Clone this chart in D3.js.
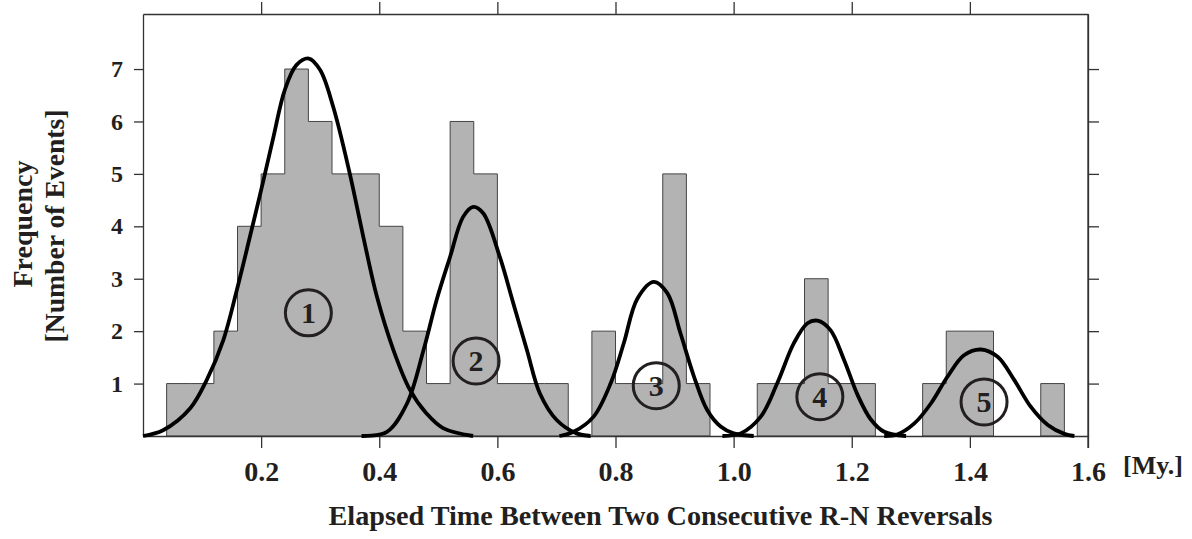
<!DOCTYPE html>
<html>
<head>
<meta charset="utf-8">
<script src="https://cdn.jsdelivr.net/npm/d3@7"></script>
<style>
  body { margin: 0; background: #fff; }
  svg text { font-family: "Liberation Serif", "Times New Roman", serif; font-weight: bold; fill: #231f20; }
</style>
</head>
<body>
<svg id="chart" width="1192" height="539"></svg>
<script>
// histogram bins (start of each 0.04 My. bin) and number of events
const binStart = [0.04,0.08,0.12,0.16,0.20,0.24,0.28,0.32,0.36,0.40,0.44,0.48,0.52,0.56,0.60,0.64,0.68,0.72,0.76,0.80,
                  0.84,0.88,0.92,0.96,1.00,1.04,1.08,1.12,1.16,1.20,1.24,1.28,1.32,1.36,1.40,1.44,1.48,1.52];
const binCount = [1,1,2,4,5,7,6,5,5,4,2,1,6,5,1,1,1,0,2,1,
                  1,5,1,0,0,1,1,3,1,1,0,0,1,2,2,0,0,1];
const binWidth = 0.04;

// fitted curves as [time, frequency]
const curve1 = [[0.0,0],[0.034,0.11],[0.080,0.53],[0.108,1.07],[0.136,1.83],[0.159,2.79],[0.181,3.80],[0.204,4.88],
                [0.221,5.71],[0.240,6.60],[0.260,7.08],[0.281,7.20],[0.300,6.98],[0.322,6.28],[0.350,5.01],[0.373,3.80],
                [0.396,2.66],[0.424,1.64],[0.452,0.88],[0.480,0.43],[0.508,0.15],[0.559,0.0]];
const curve2 = [[0.370,0],[0.413,0.08],[0.447,0.62],[0.475,1.64],[0.497,2.59],[0.520,3.42],[0.542,4.18],[0.559,4.37],
                [0.576,4.25],[0.604,3.42],[0.627,2.53],[0.650,1.64],[0.672,0.81],[0.700,0.31],[0.734,0.05],[0.758,0]];
const curve3 = [[0.705,0],[0.729,0.08],[0.763,0.37],[0.792,1.01],[0.814,1.77],[0.837,2.62],[0.865,2.94],[0.888,2.72],
                [0.910,1.96],[0.933,1.13],[0.955,0.50],[0.978,0.18],[1.000,0.05],[1.034,0]];
const curve4 = [[0.981,0],[1.012,0.05],[1.046,0.37],[1.074,1.01],[1.102,1.77],[1.125,2.15],[1.142,2.20],[1.164,2.02],
                [1.187,1.45],[1.210,0.78],[1.232,0.32],[1.255,0.08],[1.292,0]];
const curve5 = [[1.255,0],[1.277,0.03],[1.306,0.24],[1.334,0.62],[1.362,1.13],[1.390,1.54],[1.419,1.65],[1.447,1.51],
                [1.475,1.07],[1.503,0.56],[1.532,0.21],[1.560,0.04],[1.577,0]];

// circled peak numbers
const peakLabel = ["1","2","3","4","5"];
const peakX = [0.280, 0.564, 0.869, 1.146, 1.424];
const peakY = [2.35, 1.43, 0.96, 0.75, 0.65];

const xTicks = [0.2,0.4,0.6,0.8,1.0,1.2,1.4,1.6];
const yTicks = [1,2,3,4,5,6,7];

const svg = d3.select("#chart");
const plotLeft = 143, plotRight = 1088, plotTop = 14, plotBottom = 436;

const x = d3.scaleLinear().domain([0, 1.6]).range([plotLeft, plotRight]);
const y = d3.scaleLinear().domain([0, 8.05]).range([plotBottom, plotTop]);

// histogram: one stepped shape per run of non-empty bins
let groups = [], cur = null;
binStart.forEach((s, i) => {
    if (binCount[i] > 0) {
        if (!cur) { cur = []; groups.push(cur); }
        cur.push([s, binCount[i]]);
    } else cur = null;
});
groups.forEach(g => g.push([g[g.length - 1][0] + binWidth, g[g.length - 1][1]]));

const area = d3.area()
    .x(d => x(d[0]))
    .y0(y(0))
    .y1(d => y(d[1]))
    .curve(d3.curveStepAfter);

svg.append("g").selectAll("path")
    .data(groups)
    .enter().append("path")
    .attr("d", area)
    .attr("fill", "#b3b3b3")
    .attr("stroke", "#444")
    .attr("stroke-width", 1);

// axes / frame
const axisColor = "#333";
function styleAxis(g) {
    g.selectAll("path.domain").attr("stroke", axisColor).attr("stroke-width", 1.3);
    g.selectAll(".tick line").attr("stroke", axisColor).attr("stroke-width", 1.3);
}

const xAxis = svg.append("g")
    .attr("transform", `translate(0,${plotBottom})`)
    .call(d3.axisBottom(x).tickValues(xTicks).tickSize(12).tickSizeOuter(0).tickPadding(13)
        .tickFormat(d3.format(".1f")));
styleAxis(xAxis);
xAxis.selectAll("text").attr("font-size", 28).attr("fill", "#231f20");

const xTop = svg.append("g")
    .attr("transform", `translate(0,${plotTop})`)
    .call(d3.axisTop(x).tickValues(xTicks.slice(0, -1)).tickSize(12).tickSizeOuter(0).tickFormat(""));
styleAxis(xTop);

const yAxis = svg.append("g")
    .attr("transform", `translate(${plotLeft},0)`)
    .call(d3.axisLeft(y).tickValues(yTicks).tickSize(9).tickSizeOuter(0).tickPadding(11)
        .tickFormat(d3.format("d")));
styleAxis(yAxis);
yAxis.selectAll("text").attr("font-size", 24).attr("fill", "#231f20");

const yRight = svg.append("g")
    .attr("transform", `translate(${plotRight},0)`)
    .call(d3.axisRight(y).tickValues(yTicks).tickSize(11).tickSizeOuter(0).tickFormat(""));
styleAxis(yRight);
// right frame line runs down to the 1.6 tick
svg.append("line")
    .attr("x1", plotRight).attr("x2", plotRight)
    .attr("y1", plotTop).attr("y2", plotBottom + 12)
    .attr("stroke", axisColor).attr("stroke-width", 1.3);

// fitted curves
const line = d3.line()
    .x(d => x(d[0]))
    .y(d => y(d[1]))
    .curve(d3.curveCatmullRom.alpha(0.5));

svg.append("g").selectAll("path")
    .data([curve1, curve2, curve3, curve4, curve5])
    .enter().append("path")
    .attr("d", line)
    .attr("fill", "none")
    .attr("stroke", "#000")
    .attr("stroke-width", 3.8)
    .attr("stroke-linecap", "butt");

// circled numbers
const marks = svg.append("g").selectAll("g")
    .data(peakLabel)
    .enter().append("g")
    .attr("transform", (d, i) => `translate(${x(peakX[i])},${y(peakY[i])})`);
marks.append("circle")
    .attr("r", 23)
    .attr("fill", "none")
    .attr("stroke", "#231f20")
    .attr("stroke-width", 3);
marks.append("text")
    .attr("text-anchor", "middle")
    .attr("y", 10)
    .attr("font-size", 30)
    .text(d => d);

// titles
svg.append("text")
    .attr("x", 660.5).attr("y", 525)
    .attr("text-anchor", "middle")
    .attr("font-size", 27)
    .attr("textLength", 664)
    .attr("lengthAdjust", "spacingAndGlyphs")
    .text("Elapsed Time Between Two Consecutive R-N Reversals");

svg.append("text")
    .attr("x", 1123).attr("y", 474)
    .attr("font-size", 26)
    .text("[My.]");

svg.append("text")
    .attr("transform", "translate(32,224) rotate(-90)")
    .attr("text-anchor", "middle")
    .attr("font-size", 27)
    .attr("textLength", 127)
    .attr("lengthAdjust", "spacingAndGlyphs")
    .text("Frequency");

svg.append("text")
    .attr("transform", "translate(64,226) rotate(-90)")
    .attr("text-anchor", "middle")
    .attr("font-size", 27)
    .attr("textLength", 233)
    .attr("lengthAdjust", "spacingAndGlyphs")
    .text("[Number of Events]");
</script>
</body>
</html>
